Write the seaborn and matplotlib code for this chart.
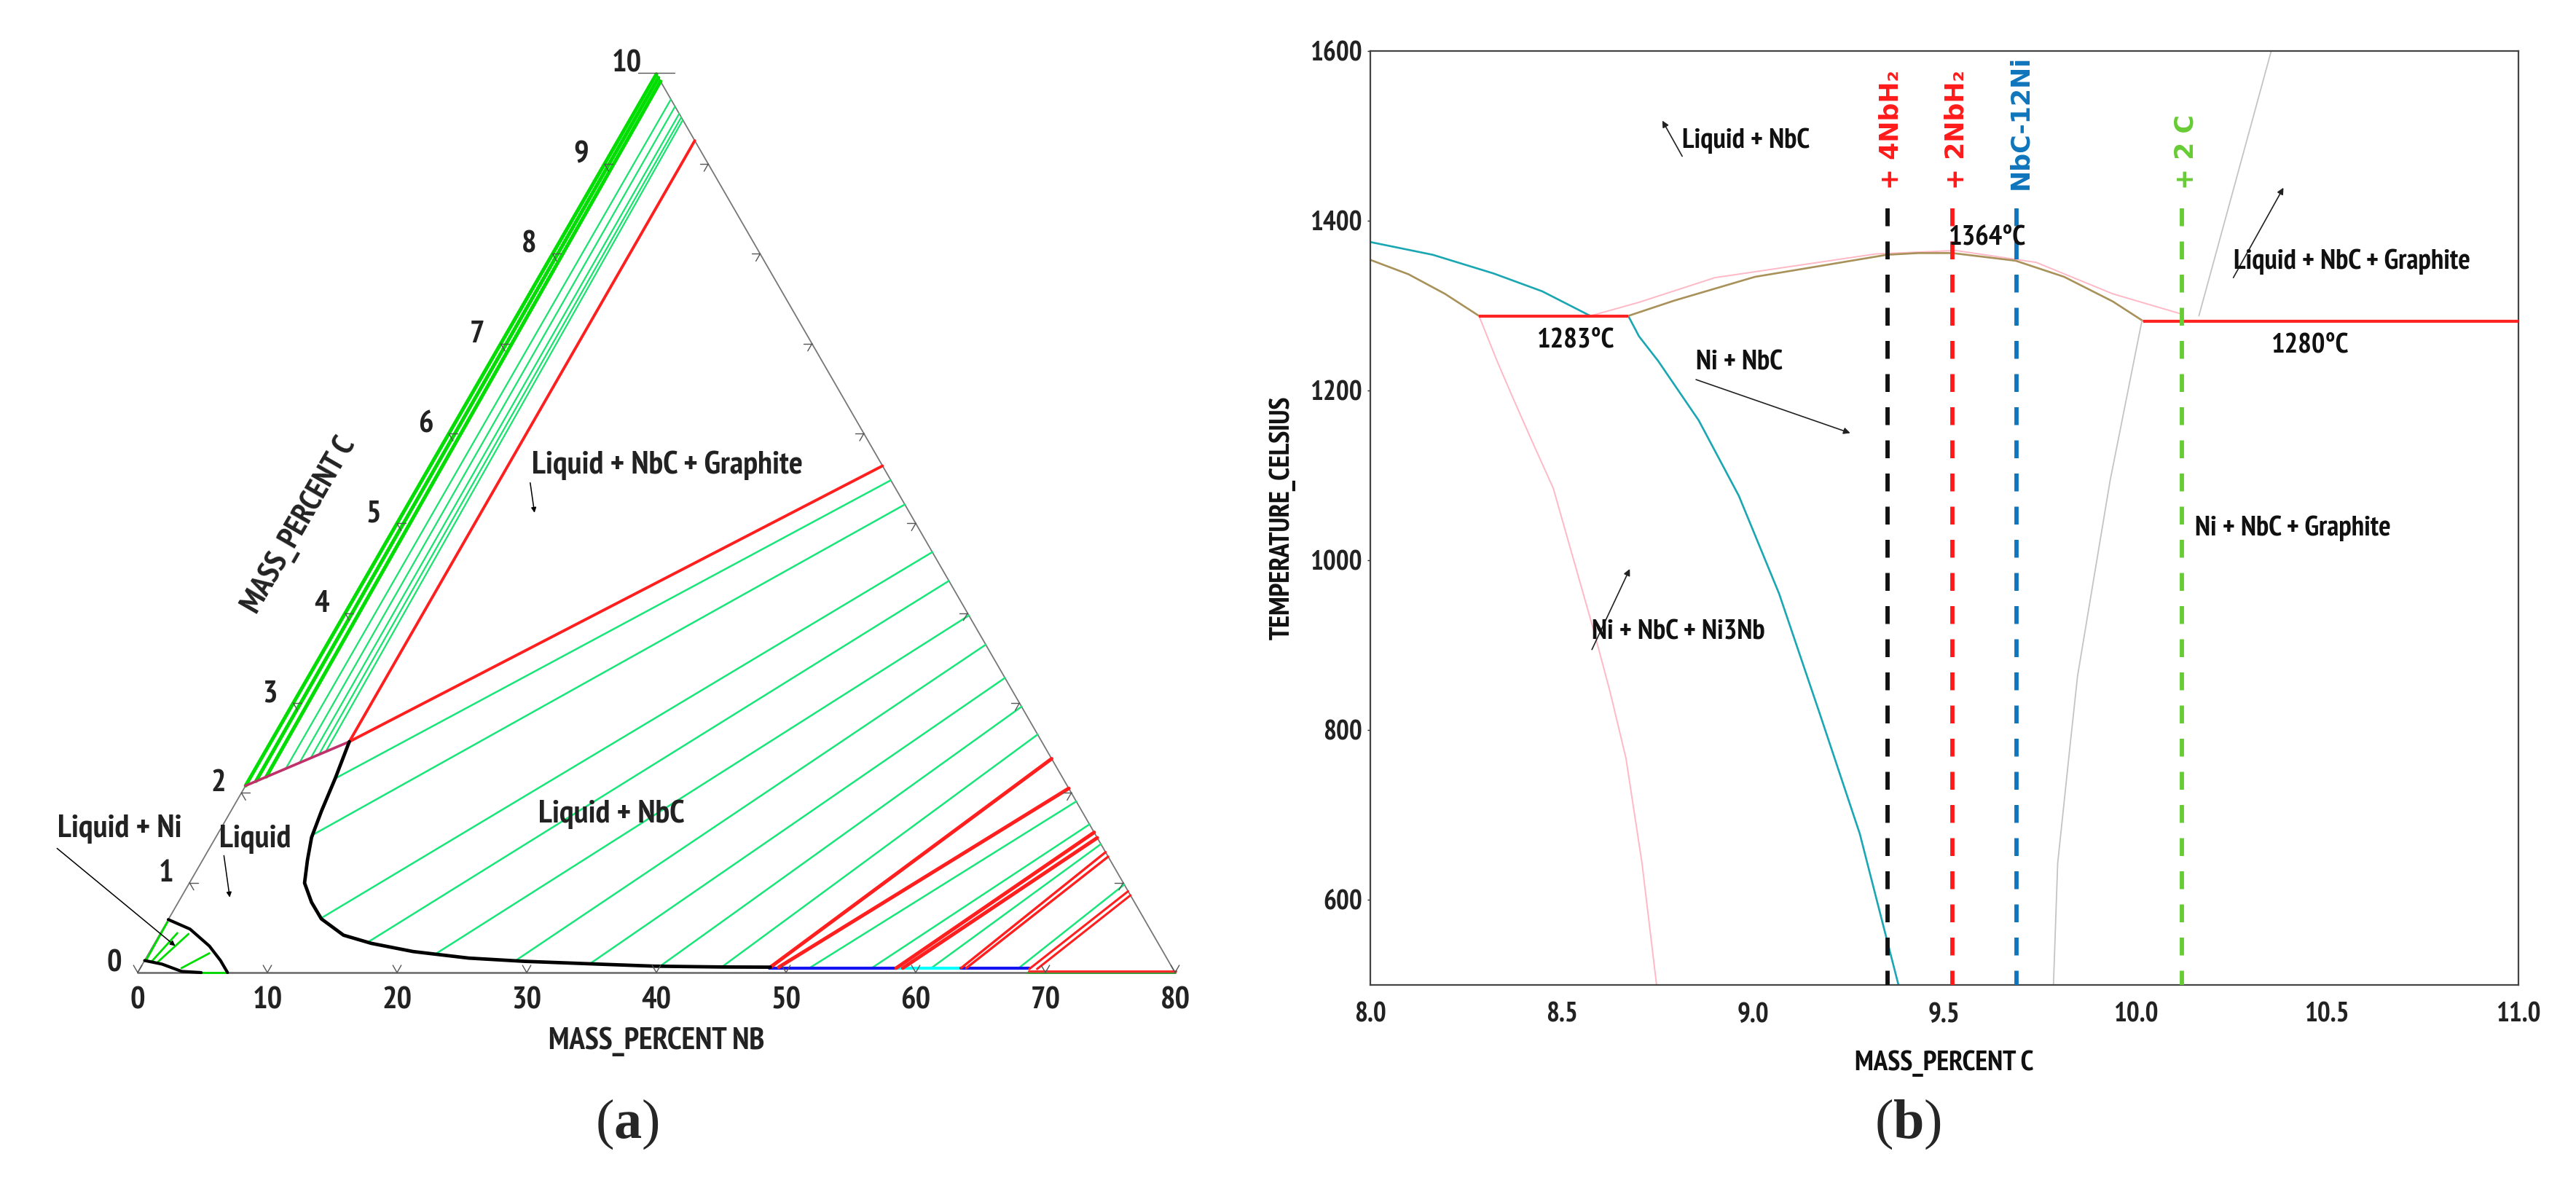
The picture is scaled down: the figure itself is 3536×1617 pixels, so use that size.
import numpy as np
import pandas as pd
import matplotlib
matplotlib.use("Agg")
import matplotlib.pyplot as plt
import seaborn as sns
from matplotlib import font_manager as fm
from matplotlib.font_manager import FontProperties

# ---------------- data : panel (a)  (mass % Nb, mass % C) ----------------
nb_ticks = [0, 10, 20, 30, 40, 50, 60, 70, 80]
c_ticks = [0, 1, 2, 3, 4, 5, 6, 7, 8, 9, 10]

# Liquid / Liquid+NbC boundary
bnd_nb = [6.04, 6.59, 6.98, 7.39, 8.09, 8.88, 10.28, 11.77, 14.21, 16.72, 20.3, 24.88, 29.32, 35.9, 39.6, 44.8, 48.55]
bnd_c = [2.57, 2.16, 1.80, 1.505, 1.25, 0.997, 0.782, 0.598, 0.416, 0.325, 0.234, 0.161, 0.125, 0.09, 0.071, 0.062, 0.06]

# Liquid + Ni small region
ni_outer_nb = [0.0, 2.1, 4.35, 5.85, 6.93]
ni_outer_c = [0.59, 0.484, 0.295, 0.134, 0.0]
ni_inner_nb = [0.0, 1.5, 3.34, 4.9]
ni_inner_c = [0.134, 0.094, 0.013, 0.0]
ni_tie_start_nb = [0.1, 0.6, 1.09, 3.18, 4.9]
ni_tie_start_c = [0.14, 0.13, 0.12, 0.05, 0.0]
ni_tie_end_nb = [0.05, 1.3, 2.2, 4.67, 6.93]
ni_tie_end_c = [0.56, 0.44, 0.43, 0.215, 0.0]

# three-phase triangle Liquid + NbC + Graphite
tri_left_nb, tri_left_c = 0.0, 2.08
tri_corner_nb, tri_corner_c = 6.04, 2.57
red_top_edge_c = [9.26, 5.64]

# graphite tie lines (start on liquid line, end on right edge, given by C)
gr_band_start_nb = [0.0, 0.6, 1.2]
gr_band_start_c = [2.08, 2.13, 2.18]
gr_band_end_c = [10.0, 9.96, 9.92]
gr_thin_start_nb = [2.34, 3.14, 3.79, 4.27, 4.67]
gr_thin_start_c = [2.27, 2.335, 2.387, 2.426, 2.459]
gr_thin_end_c = [9.72, 9.64, 9.56, 9.52, 9.49]

# Liquid + NbC tie lines
nbc_start_nb = [6.59, 7.45, 11.8, 16.43, 22.13, 28.57, 34.54, 40.0, 44.8, 51.6, 56.4, 61.0, 67.7]
nbc_start_c = [2.16, 1.542, 0.615, 0.342, 0.205, 0.126, 0.107, 0.07, 0.062, 0.05, 0.05, 0.05, 0.04]
nbc_end_c = [5.48, 5.21, 4.68, 4.36, 3.975, 3.65, 3.28, 2.96, 2.65, 1.905, 1.65, 1.43, 0.98]

# red three-phase lines near the Nb-rich corner
red_start_nb = [48.55, 49.2, 58.3, 58.8, 63.3, 63.7, 68.6, 69.2]
red_start_c = [0.06, 0.06, 0.05, 0.05, 0.05, 0.05, 0.04, 0.04]
red_end_c = [2.38, 2.05, 1.56, 1.50, 1.34, 1.29, 0.905, 0.86]
red_width = [3.6, 3.6, 3.6, 3.6, 2.4, 2.4, 2.2, 2.2]

# segments along the bottom
bottom_nb_from = [48.55, 58.3, 63.3]
bottom_nb_to = [58.3, 63.3, 68.6]
bottom_color = ["#1414f0", "#00ffff", "#1414f0"]

# ---------------- data : panel (b) ----------------
teal_up_x = [8.0, 8.163, 8.322, 8.449, 8.575]
teal_up_y = [1375, 1360, 1338, 1317, 1288]
teal_lo_x = [8.674, 8.702, 8.752, 8.858, 8.963, 9.068, 9.174, 9.279, 9.38]
teal_lo_y = [1288, 1264, 1235, 1165, 1076, 961, 820, 678, 500]
olive_l_x = [8.0, 8.1, 8.195, 8.284]
olive_l_y = [1354, 1337, 1314, 1288]
olive_m_x = [8.674, 8.794, 9.005, 9.178, 9.35, 9.432, 9.521, 9.686, 9.813, 9.94, 10.019]
olive_m_y = [1288, 1306, 1334, 1347, 1360, 1362, 1362, 1353, 1334, 1305, 1282]
pink_lo_x = [8.284, 8.331, 8.373, 8.425, 8.478, 8.531, 8.584, 8.626, 8.668, 8.71, 8.748]
pink_lo_y = [1288, 1235, 1191, 1138, 1085, 1001, 917, 846, 767, 643, 500]
pink_up_x = [8.575, 8.702, 8.9, 9.321, 9.53, 9.74, 9.94, 10.121]
pink_up_y = [1288, 1304, 1333, 1361, 1365, 1351, 1314, 1290]
gray_lo_x = [9.785, 9.796, 9.827, 9.848, 9.933, 10.016]
gray_lo_y = [500, 643, 776, 864, 1094, 1282]
gray_up_x = [10.165, 10.354]
gray_up_y = [1288, 1600]
iso_x0 = [8.284, 10.019]
iso_x1 = [8.674, 11.0]
iso_t = [1288, 1282]

comp_x = [9.351, 9.521, 9.688, 10.121]
comp_top = 1415
comp_labels = ["+ 4NbH\u2082", "+ 2NbH\u2082", "NbC-12Ni", "+ 2 C"]
comp_colors = ["#111111", "#ff1a1a", "#0f75bc", "#66cc33"]
comp_label_colors = ["#ff1a1a", "#ff1a1a", "#0f75bc", "#66cc33"]

xt_b = [8.0, 8.5, 9.0, 9.5, 10.0, 10.5, 11.0]
yt_b = [600, 800, 1000, 1200, 1400, 1600]

# ---------------- style ----------------
sns.set_theme(style="white")
plt.rcParams["font.family"] = ["Liberation Sans", "DejaVu Sans"]
plt.rcParams["mathtext.fontset"] = "custom"
plt.rcParams["mathtext.rm"] = "Liberation Serif"
plt.rcParams["mathtext.bf"] = "Liberation Serif:bold"


def pick_font(cands):
    for name in cands:
        for f in fm.fontManager.ttflist:
            if f.name == name and f.weight in (700, "bold") and f.style == "normal" and "[" not in f.fname:
                return f.fname
    return None


NARROW_PATH = pick_font(["Liberation Sans Narrow", "Arial Narrow", "PT Sans Narrow", "Roboto Condensed",
                         "Archivo Narrow", "IBM Plex Sans Condensed", "Open Sans Condensed"])


def FP(size):
    if NARROW_PATH:
        return FontProperties(fname=NARROW_PATH, size=size)
    return FontProperties(family="Liberation Sans", weight="bold", size=size * 0.85)


W, H = 3536, 1617
fig = plt.figure(figsize=(W / 100, H / 100), dpi=100)
fig.patch.set_facecolor("white")

# ---------------- panel (a) ----------------
S = 17.8  # px per unit
axa = fig.add_axes([11 / W, 104 / H, 102 * S / W, 82 * S / H])
axa.set_xlim(-10, 92)
axa.set_ylim(-10, 72)
axa.set_axis_off()

K = 4 * np.sqrt(3)


def X(nb, c):
    return np.asarray(nb, float) + 4 * np.asarray(c, float)


def Y(c):
    return np.asarray(c, float) * K


def edge_nb(c):
    return 80 * (1 - np.asarray(c, float) / 10)


def segs(ax, nb0, c0, nb1, c1, color, lw, z=2):
    rows = []
    for i, (a, b, cc, d) in enumerate(zip(nb0, c0, nb1, c1)):
        rows.append((i, X(a, b), Y(b)))
        rows.append((i, X(cc, d), Y(d)))
    df = pd.DataFrame(rows, columns=["seg", "X", "Y"])
    sns.lineplot(data=df, x="X", y="Y", units="seg", estimator=None, sort=False,
                 color=color, linewidth=lw, ax=ax, legend=False, zorder=z)


def curve(ax, nb, c, color, lw, z=3):
    sns.lineplot(x=X(nb, c), y=Y(c), sort=False, estimator=None, color=color,
                 linewidth=lw, ax=ax, legend=False, zorder=z)


edge_col = "#777777"
curve(axa, [0, 80], [0, 0], "#666666", 1.8, z=1)
curve(axa, [0, 0], [0, 10], edge_col, 1.3, z=1)
curve(axa, [0, 80], [10, 0], edge_col, 1.3, z=1)

segs(axa, gr_band_start_nb, gr_band_start_c, edge_nb(gr_band_end_c), gr_band_end_c, "#00dd00", 3.6)
segs(axa, gr_thin_start_nb, gr_thin_start_c, edge_nb(gr_thin_end_c), gr_thin_end_c, "#19e36e", 1.6)
segs(axa, nbc_start_nb, nbc_start_c, edge_nb(nbc_end_c), nbc_end_c, "#19e67a", 1.8)
segs(axa, ni_tie_start_nb, ni_tie_start_c, ni_tie_end_nb, ni_tie_end_c, "#00dd00", 2.0)
segs(axa, [68.6], [0.0], [80], [0.0], "#3c9c3c", 2.0, z=2)
segs(axa, [68.6], [0.02], [80], [0.02], "#ff2a2a", 2.2, z=3)
for a, b, col in zip(bottom_nb_from, bottom_nb_to, bottom_color):
    segs(axa, [a], [0.045], [b], [0.045], col, 3.0, z=3)
for a, b, cc, w in zip(red_start_nb, red_start_c, red_end_c, red_width):
    segs(axa, [a], [b], [edge_nb(cc)], [cc], "#ff1f1f", w, z=3)

segs(axa, [tri_left_nb], [tri_left_c], [tri_corner_nb], [tri_corner_c], "#c0306a", 2.6, z=4)
for cc in red_top_edge_c:
    segs(axa, [tri_corner_nb], [tri_corner_c], [edge_nb(cc)], [cc], "#ff1f1f", 2.8, z=4)

curve(axa, bnd_nb, bnd_c, "black", 3.4, z=5)
curve(axa, ni_outer_nb, ni_outer_c, "black", 3.0, z=5)
curve(axa, ni_inner_nb, ni_inner_c, "black", 3.0, z=5)

# chevron ticks on the triangle edges
L = 0.65
tick_kw = dict(color="#555555", lw=1.0, zorder=6)
for v in nb_ticks:
    px, py = v, 0.0
    for ang in (60, 120):
        axa.plot([px, px + L * np.cos(np.radians(ang))], [py, py + L * np.sin(np.radians(ang))], **tick_kw)
for v in c_ticks[1:-1]:
    px, py = X(0, v), Y(v)
    for ang in (0, -60):
        axa.plot([px, px + L * np.cos(np.radians(ang))], [py, py + L * np.sin(np.radians(ang))], **tick_kw)
    px, py = X(edge_nb(v), v), Y(v)
    for ang in (180, 240):
        axa.plot([px, px + L * np.cos(np.radians(ang))], [py, py + L * np.sin(np.radians(ang))], **tick_kw)
axa.plot([38.6, 41.4], [Y(10) + 0.1] * 2, **tick_kw)

lab_kw = dict(color="#222222", ha="center", va="center")
for v in nb_ticks:
    axa.text(v, -2.2, str(v), fontproperties=FP(31), **lab_kw)
for v in c_ticks:
    if v == 10:
        axa.text(X(0, v) - 2.3, Y(v) + 0.75, str(v), fontproperties=FP(31), **lab_kw)
    else:
        axa.text(X(0, v) - 1.8, Y(v) + 0.7, str(v), fontproperties=FP(31), **lab_kw)
axa.text(40, -5.35, "MASS_PERCENT NB", fontproperties=FP(31), **lab_kw)
axa.text(12.5, 34.5, "MASS_PERCENT C", fontproperties=FP(31), rotation=60, rotation_mode="anchor", **lab_kw)

ann_kw = dict(color="#222222", va="center", ha="left")
axa.text(-6.2, 11.05, "Liquid + Ni", fontproperties=FP(32), **ann_kw)
axa.text(6.28, 10.26, "Liquid", fontproperties=FP(32), **ann_kw)
axa.text(30.4, 39.1, "Liquid + NbC + Graphite", fontproperties=FP(32), **ann_kw)
axa.text(30.9, 12.2, "Liquid + NbC", fontproperties=FP(32), **ann_kw)
arr = dict(arrowstyle="-|>", lw=1.1, color="black", mutation_scale=10, shrinkA=0, shrinkB=0)
axa.annotate("", xy=(2.9, 2.05), xytext=(-6.22, 9.58), arrowprops=arr)
axa.annotate("", xy=(7.1, 5.8), xytext=(6.65, 9.02), arrowprops=arr)
axa.annotate("", xy=(30.6, 35.46), xytext=(30.27, 37.77), arrowprops=arr)

# ---------------- panel (b) ----------------
axb = fig.add_axes([1881 / W, 1 - 1352 / H, 1576 / W, 1282 / H])
lw_main = 1.9
sns.lineplot(x=teal_up_x, y=teal_up_y, sort=False, estimator=None, color="#1aa7b3", linewidth=lw_main, ax=axb)
sns.lineplot(x=teal_lo_x, y=teal_lo_y, sort=False, estimator=None, color="#1aa7b3", linewidth=lw_main, ax=axb)
sns.lineplot(x=pink_lo_x, y=pink_lo_y, sort=False, estimator=None, color="#ffb8c6", linewidth=1.4, ax=axb)
sns.lineplot(x=pink_up_x, y=pink_up_y, sort=False, estimator=None, color="#ffb8c6", linewidth=1.4, ax=axb)
sns.lineplot(x=olive_l_x, y=olive_l_y, sort=False, estimator=None, color="#a8925a", linewidth=lw_main, ax=axb)
sns.lineplot(x=olive_m_x, y=olive_m_y, sort=False, estimator=None, color="#a8925a", linewidth=lw_main, ax=axb)
sns.lineplot(x=gray_lo_x, y=gray_lo_y, sort=False, estimator=None, color="#c4c4c4", linewidth=1.3, ax=axb)
sns.lineplot(x=gray_up_x, y=gray_up_y, sort=False, estimator=None, color="#c4c4c4", linewidth=1.3, ax=axb)
for a, b, t in zip(iso_x0, iso_x1, iso_t):
    axb.plot([a, b], [t, t], color="#ff2424", lw=3.0, zorder=4, solid_capstyle="butt")

for xv, col, lab, lcol in zip(comp_x, comp_colors, comp_labels, comp_label_colors):
    axb.plot([xv, xv], [comp_top, 500], color=col, lw=4.2, dashes=(4.2, 3.6), zorder=5)
    axb.text(xv + 0.01, comp_top + 22, lab, color=lcol, rotation=90, ha="center", va="bottom",
             fontsize=25, fontweight="bold", family="DejaVu Sans", zorder=6)

t_kw = dict(color="#111111", va="center", ha="left", zorder=7)
axb.text(8.815, 1494, "Liquid + NbC", fontproperties=FP(28), **t_kw)
axb.text(9.512, 1380, "1364\u00b0C", fontproperties=FP(28), **t_kw)
axb.text(8.436, 1259, "1283\u00b0C", fontproperties=FP(28), **t_kw)
axb.text(8.851, 1233, "Ni + NbC", fontproperties=FP(28), **t_kw)
axb.text(10.255, 1352, "Liquid + NbC + Graphite", fontproperties=FP(28), **t_kw)
axb.text(10.354, 1253, "1280\u00b0C", fontproperties=FP(28), **t_kw)
axb.text(10.154, 1038, "Ni + NbC + Graphite", fontproperties=FP(28), **t_kw)
axb.text(8.579, 915, "Ni + NbC + Ni3Nb", fontproperties=FP(28), **t_kw)
arrb = dict(arrowstyle="-|>", lw=1.2, color="#222222", mutation_scale=13, shrinkA=0, shrinkB=0)
axb.annotate("", xy=(8.763, 1518), xytext=(8.815, 1476), arrowprops=arrb)
axb.annotate("", xy=(9.254, 1150), xytext=(8.851, 1213), arrowprops=arrb)
axb.annotate("", xy=(10.386, 1439), xytext=(10.255, 1333), arrowprops=arrb)
axb.annotate("", xy=(8.678, 990), xytext=(8.579, 895), arrowprops=arrb)

axb.set_xlim(8.0, 11.0)
axb.set_ylim(500, 1600)
axb.set_xticks(xt_b)
axb.set_xticklabels([f"{v:.1f}" for v in xt_b])
axb.set_yticks(yt_b)
axb.set_yticklabels([str(v) for v in yt_b])
axb.tick_params(axis="both", which="both", direction="out", length=3, width=1, colors="#222222",
                left=True, bottom=False)
axb.tick_params(axis="x", pad=14)
axb.tick_params(axis="y", pad=5)
for lab in axb.get_xticklabels() + axb.get_yticklabels():
    lab.set_fontproperties(FP(27))
for sp in axb.spines.values():
    sp.set_visible(True)
    sp.set_color("#444444")
    sp.set_linewidth(1.6)
axb.set_xlabel("MASS_PERCENT C", fontproperties=FP(28), color="#111111", labelpad=22)
axb.set_ylabel("TEMPERATURE_CELSIUS", fontproperties=FP(28), color="#111111", labelpad=14)
axb.grid(False)

# captions
fig.text(861 / W, 1 - 1543 / H, r"($\mathbf{a}$)", ha="center", va="center", fontsize=55, family="Liberation Serif")
fig.text(2619 / W, 1 - 1543 / H, r"($\mathbf{b}$)", ha="center", va="center", fontsize=55, family="Liberation Serif")

fig.savefig("out.png", dpi=100, facecolor="white")
